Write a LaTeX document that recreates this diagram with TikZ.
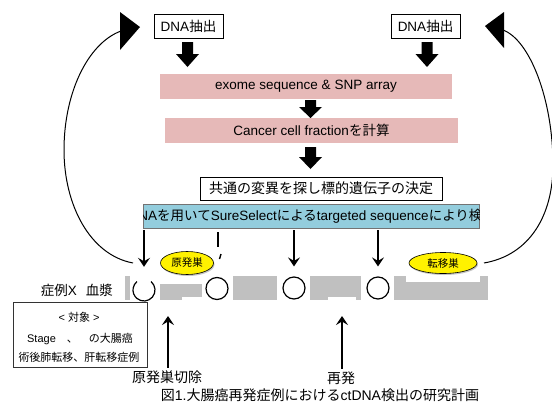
\documentclass[tikz,border=0pt]{standalone}
\usepackage{fontspec}
\setmainfont{Liberation Sans}
\newfontfamily\jp{Noto Sans CJK JP}
\usetikzlibrary{shapes.geometric,shadows,arrows.meta,calc}
\definecolor{pinkfill}{HTML}{E6B9B8}
\definecolor{bluefill}{HTML}{93CDDD}
\definecolor{greyband}{HTML}{C0C0C0}
\newcommand\J[1]{{\jp #1}}
\newcommand\fs[1]{\fontsize{#1}{#1}\selectfont}
\newcommand\downblock[4]{\fill[black] ({#1-5.5},#2) -- ({#1+5.5},#2) -- ({#1+5.5},#3) -- ({#1+11.5},#3) -- (#1,#4) -- ({#1-11.5},#3) -- ({#1-5.5},#3) -- cycle;}
\begin{document}
\begin{tikzpicture}[x=1pt,y=-1pt,
  dnabox/.style={draw=black,line width=0.6pt,fill=white,minimum width=69pt,minimum height=24pt,inner sep=0pt,font=\fs{13.5}},
  pinkbar/.style={fill=pinkfill,minimum height=25pt,inner sep=0pt,font=\fs{13.5}},
  thinarrow/.style={line width=2pt,-{Stealth[length=9pt,width=12pt,inset=3.5pt]}},
  ring/.style={circle,draw=black,line width=1.2pt,minimum size=22pt,inner sep=0pt,fill=white},
  greyseg/.style={fill=greyband},
  yell/.style={ellipse,draw=black,line width=0.6pt,fill=yellow,inner sep=0pt,font=\fs{10.5},drop shadow={shadow xshift=1pt,shadow yshift=-1.5pt,opacity=0.45}},
  loopline/.style={line width=1pt},
  lbl/.style={inner sep=0.5pt,font=\fs{14}},
  ]
\useasboundingbox (0,0) rectangle (552,402);
\fill[white] (0,0) rectangle (552,402);

% return loops
\draw[loopline] (124,30) .. controls (90,40) and (64,90) .. (64,150) .. controls (64,205) and (90,255) .. (133,263);
\coordinate (rend) at (484,263);
\draw[loopline] (503,30) .. controls (530,40) and (553,100) .. (553,165) .. controls (553,215) and (530,255) .. (rend);
\fill[black] (120,12) -- (120,50) -- (140,27) -- cycle;
\fill[black] (504,12) -- (504,48) -- (485,26) -- cycle;

% top boxes
\node[dnabox] (dnaL) at (188.5,26) {DNA\J{抽出}};
\node[dnabox] (dnaR) at (425.5,26) {DNA\J{抽出}};
\downblock{187.5}{42}{54}{67}
\downblock{427}{42}{54}{67}

\node[pinkbar,minimum width=292pt] (exome) at (306,86.5) {exome sequence \& SNP array};
\downblock{310.5}{100}{107}{118}
\node[pinkbar,minimum width=293pt] (ccf) at (311.5,130.5) {Cancer cell fraction\J{を計算}};
\downblock{310.5}{147}{157}{169}
\node[draw=black,line width=0.6pt,fill=white,minimum width=242pt,minimum height=23pt,inner sep=0pt,font=\fs{14}] (common) at (321,188.5) {\J{共通の変異を探し標的遺伝子の決定}};

% blue band
\node[fill=bluefill,draw=black!55,line width=0.8pt,minimum width=336pt,minimum height=24pt,inner sep=0pt] (band) at (311,216) {};
\begin{scope}
\clip (143,204) rectangle (479,228);
\node[anchor=west,inner sep=0pt,font=\fs{13.5}] (bandtext) at (128.5,216) {DNA\J{を用いて}SureSelect\J{による}targeted sequence\J{により検出}};
\end{scope}

% timeline
\fill[greyseg] (125,276) rectangle (130,300);
\fill[greyseg] (160,284) rectangle (202,297);
\fill[greyseg] (160,297) rectangle (182,300);
\fill[greyseg] (233,276) rectangle (277,300);
\fill[greyseg] (310,276) rectangle (361,297);
\fill[greyseg] (310,297) rectangle (328,300);
\fill[greyseg] (356,297) rectangle (361,300);
\fill[greyseg] (394,282) rectangle (488,300);
\fill[greyseg] (394,276) rectangle (406,282);
\fill[greyseg] (480,276) rectangle (488,282);

\node[circle,minimum size=22pt,inner sep=0pt] (c1) at (144,290) {};
\draw[line width=1.2pt] ([shift={(50:11pt)}]c1.center) arc[start angle=50,end angle=-230,radius=11pt];
\node[ring] (c2) at (217,288.5) {};
\node[ring] (c3) at (294,288) {};
\node[ring] (c4) at (378,288) {};

\draw[thinarrow] ($(band.south -| c1)+(0,2)$) -- ($(c1.north)+(0,-12)$);
\draw[line width=2pt] ($(band.south -| 218,0)+(0,4)$) -- (218,247);
\draw[line width=1.4pt] (219.5,259) -- (221,254);
\draw[thinarrow] ($(band.south -| c3)+(0,2)$) -- ($(c3.north)+(0,-10)$);
\draw[thinarrow] ($(band.south -| c4)+(0,2)$) -- ($(c4.north)+(0,-10)$);

\node[yell,minimum width=53pt,minimum height=23pt] (prim) at (187,263) {\J{原発巣}};
\node[yell,minimum width=68pt,minimum height=21pt] (meta) at (443,263) {\J{転移巣}};

\node[anchor=east,inner sep=0pt,font=\fs{13.5}] (case) at (113,290) {\J{症例}X\hspace{9pt}\J{血漿}};

% target box
\node[draw=black!80,line width=0.8pt,fill=white,minimum width=134pt,minimum height=65pt,inner sep=0pt,drop shadow={shadow xshift=1pt,shadow yshift=-1pt,opacity=0.5}] (target) at (80,334.5) {};
\node[inner sep=0pt,font=\fs{11}] (tg1) at (79,317) {< \J{対象} >};
\node[inner sep=0pt,font=\fs{11}] (tg2) at (80,339) {Stage\J{　、　の大腸癌}};
\node[inner sep=0pt,font=\fs{11}] (tg3) at (79,357) {\J{術後肺転移、肝転移症例}};

% bottom labels
\node[lbl] (resect) at (167,377) {\J{原発巣切除}};
\node[lbl] (recur) at (341,378) {\J{再発}};
\coordinate (u1) at (168,316);
\coordinate (u2) at (342,316);
\draw[thinarrow] ($(resect.north -| u1)+(0,-2)$) -- (u1);
\draw[thinarrow] ($(recur.north -| u2)+(0,-2)$) -- (u2);

\node[inner sep=0pt,font=\fs{14}] (caption) at (320,395) {\J{図}1.\J{大腸癌再発症例における}ctDNA\J{検出の研究計画}};
\end{tikzpicture}
\end{document}
